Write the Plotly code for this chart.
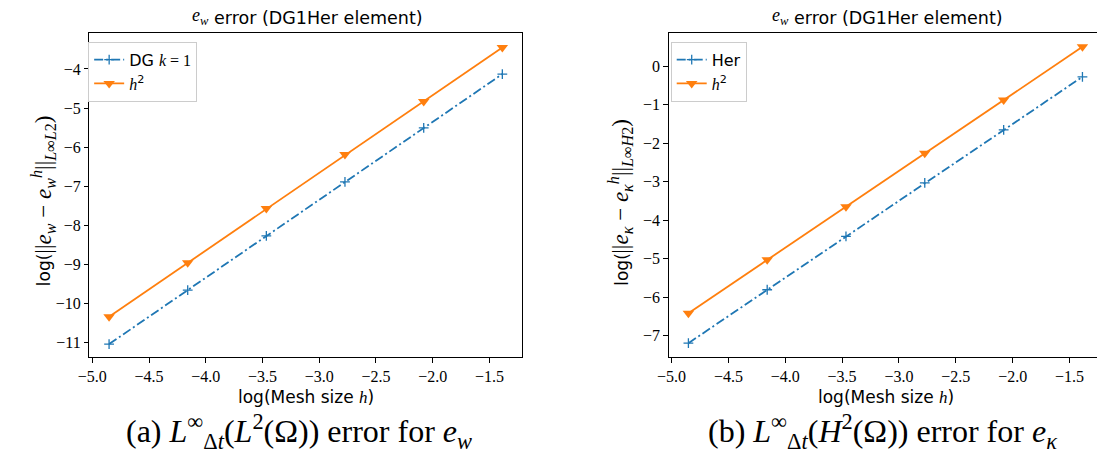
import plotly.graph_objects as go

# ---------------- data ----------------
log_h = [-4.852, -4.159, -3.466, -2.773, -2.079, -1.386]
ew_dg = [-11.04, -9.66, -8.27, -6.89, -5.51, -4.13]
ew_h2 = [-10.34, -8.96, -7.57, -6.19, -4.83, -3.45]
ek_her = [-7.20, -5.81, -4.42, -3.03, -1.65, -0.27]
ek_h2 = [-6.42, -5.03, -3.65, -2.26, -0.87, 0.51]

x_ticks = [-5.0, -4.5, -4.0, -3.5, -3.0, -2.5, -2.0, -1.5]
x_ticklabels = ["−5.0", "−4.5", "−4.0", "−3.5", "−3.0", "−2.5", "−2.0", "−1.5"]
y_ticks_left = [-11, -10, -9, -8, -7, -6, -5, -4]
y_ticklabels_left = ["−11", "−10", "−9", "−8", "−7", "−6", "−5", "−4"]
y_ticks_right = [-7, -6, -5, -4, -3, -2, -1, 0]
y_ticklabels_right = ["−7", "−6", "−5", "−4", "−3", "−2", "−1", "0"]

# ---------------- style ----------------
W, H = 1097, 454
BLUE = "#1f77b4"
ORANGE = "#ff7f0e"
SANS = "DejaVu Sans"
SERIF = "Liberation Serif, serif"


def it(s):
    return f'<span style="font-family:{SERIF}"><i>{s}</i></span>'


def rm(s):
    return f'<span style="font-family:{SERIF}">{s}</span>'


def px(x):
    return x / W


def py(y):
    return 1 - y / H


title_math_w = "<i>e</i><sub><i>w</i></sub>"
title_text = "error (DG1Her element)"
xlabel_txt = "log(Mesh size " + it("h") + ")"
ylabel_left_math = "||<i>e</i><sub><i>w</i></sub> − <i>e</i><sub><i>w</i></sub><sup><i>h</i></sup>||<sub><i>L</i>∞<i>L</i>2</sub>)"
ylabel_right_math = "||<i>e</i><sub><i>κ</i></sub> − <i>e</i><sub><i>κ</i></sub><sup><i>h</i></sup>||<sub><i>L</i>∞<i>H</i>2</sub>)"
cap_left = "(a) <i>L</i><sup>∞</sup><sub>Δ<i>t</i></sub>(<i>L</i><sup>2</sup>(Ω)) error for <i>e</i><sub><i>w</i></sub>"
cap_right = "(b) <i>L</i><sup>∞</sup><sub>Δ<i>t</i></sub>(<i>H</i><sup>2</sup>(Ω)) error for <i>e</i><sub><i>κ</i></sub>"

fig = go.Figure()

blue_line = dict(color=BLUE, width=1.8, dash="9px,3px,2px,3px")
blue_marker = dict(symbol="cross-thin", size=7, color=BLUE, line=dict(color=BLUE, width=1.3))
orange_line = dict(color=ORANGE, width=1.8)
orange_marker = dict(symbol="triangle-down", size=10, color=ORANGE)

fig.add_trace(go.Scatter(x=log_h, y=ew_dg, mode="lines+markers", name="DG " + it("k") + rm(" = 1"),
                         line=blue_line, marker=blue_marker, xaxis="x", yaxis="y", legend="legend"))
fig.add_trace(go.Scatter(x=log_h, y=ew_h2, mode="lines+markers", name=it("h") + "<sup>2</sup>",
                         line=orange_line, marker=orange_marker, xaxis="x", yaxis="y", legend="legend"))
fig.add_trace(go.Scatter(x=log_h, y=ek_her, mode="lines+markers", name="Her",
                         line=blue_line, marker=blue_marker, xaxis="x2", yaxis="y2", legend="legend2"))
fig.add_trace(go.Scatter(x=log_h, y=ek_h2, mode="lines+markers", name=it("h") + "<sup>2</sup>",
                         line=orange_line, marker=orange_marker, xaxis="x2", yaxis="y2", legend="legend2"))


def axis_style():
    return dict(showline=True, linecolor="black", linewidth=1, ticks="outside", ticklen=4.5,
                tickwidth=1, tickcolor="black", showgrid=False, zeroline=False,
                tickfont=dict(family=SERIF, size=16, color="black"))


ydom = [py(357), py(33)]
leg_common = dict(xanchor="left", yanchor="top", bgcolor="white", bordercolor="#cccccc",
                  borderwidth=1, font=dict(family=SANS, size=16))
fig.update_layout(
    width=W, height=H,
    margin=dict(l=0, r=0, t=0, b=0),
    paper_bgcolor="white", plot_bgcolor="white",
    font=dict(family=SANS, size=16, color="black"),
    xaxis=dict(domain=[px(78.3), px(515.6)], range=[-5.025, -1.213], tickvals=x_ticks,
               ticktext=x_ticklabels, anchor="y", mirror=True, **axis_style()),
    yaxis=dict(domain=ydom, range=[-11.37, -3.08], tickvals=y_ticks_left,
               ticktext=y_ticklabels_left, anchor="x", mirror=True, **axis_style()),
    xaxis2=dict(domain=[px(664), 1.0], range=[-5.025, -1.258], tickvals=x_ticks,
                ticktext=x_ticklabels, anchor="y2", mirror=True, **axis_style()),
    yaxis2=dict(domain=ydom, range=[-7.56, 0.87], tickvals=y_ticks_right,
                ticktext=y_ticklabels_right, anchor="x2", mirror=False, **axis_style()),
    legend=dict(x=px(77), y=py(41.7), entrywidth=108, entrywidthmode="pixels", **leg_common),
    legend2=dict(x=px(666), y=py(41.7), entrywidth=62, entrywidthmode="pixels", **leg_common),
    showlegend=True,
)

ann = []


def add(text, x, y, size, family=SANS, angle=0, xa="center", ya="middle"):
    ann.append(dict(text=text, x=px(x), y=py(y), xref="paper", yref="paper", showarrow=False,
                    xanchor=xa, yanchor=ya, textangle=angle, borderpad=0,
                    font=dict(family=family, size=size, color="black")))


for dx in (0, 587):
    add(title_math_w, 200 + dx, 17, 18, family=SERIF, xa="right")
    add(title_text, 203 + dx, 17.5, 17.5, family=SANS, xa="left")
    add(xlabel_txt, 297 + dx, 397, 17)

add("log(", 32, 287, 17, family=SANS, angle=-90, ya="bottom")
add(ylabel_left_math, 31, 255, 23, family=SERIF, angle=-90, ya="bottom")
add("log(", 616, 287, 17, family=SANS, angle=-90, ya="bottom")
add(ylabel_right_math, 615, 255, 23, family=SERIF, angle=-90, ya="bottom")
add(cap_left, 290, 431, 32, family=SERIF)
add(cap_right, 880, 431, 32, family=SERIF)
fig.update_layout(annotations=ann)

fig.write_html("out.html")
